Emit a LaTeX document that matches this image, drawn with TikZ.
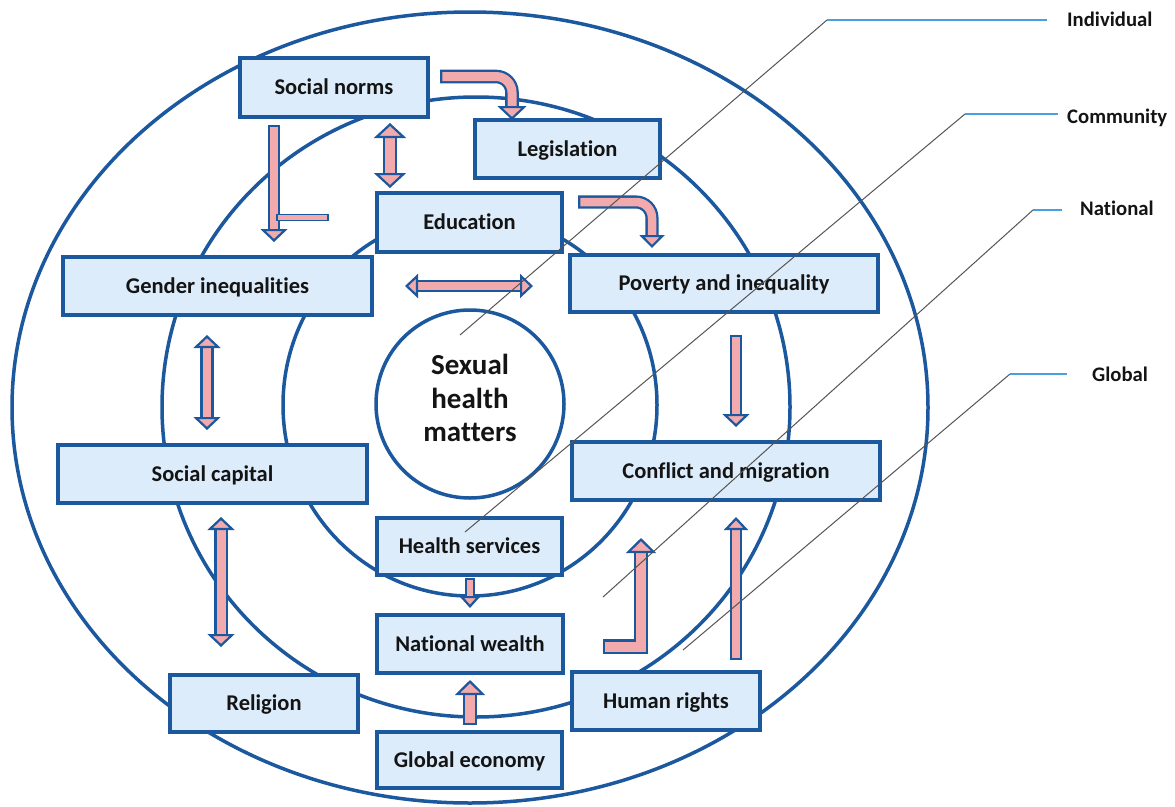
\documentclass[tikz,border=0pt]{standalone}
\usepackage{fontspec}
\setmainfont{Carlito}[Ligatures=NoCommon]
\usetikzlibrary{arrows.meta}
\definecolor{ablue}{RGB}{28,88,158}
\definecolor{afill}{RGB}{221,236,250}
\definecolor{apink}{RGB}{242,170,172}
\definecolor{lgray}{RGB}{85,85,85}
\definecolor{lblue}{RGB}{72,160,222}
\definecolor{tblack}{RGB}{20,20,20}
\tikzset{
  ring/.style={draw=ablue, line width=3.5pt},
  box/.style={rectangle, draw=ablue, fill=afill, line width=3.5pt, inner sep=0pt,
    text=tblack, font=\fontsize{22.5}{27}\selectfont\bfseries, text height=14.5pt, text depth=0pt},
  lbl/.style={text=tblack, font=\fontsize{20.7}{24}\selectfont\bfseries, inner sep=0pt},
  grayline/.style={draw=lgray, line width=1pt},
  blueline/.style={draw=lblue, line width=1.6pt},
  hA/.tip={Triangle[width=29pt,length=14pt,line width=2.2pt,color=ablue,fill=apink]},
  hB/.tip={Triangle[width=25pt,length=13pt,line width=2.2pt,color=ablue,fill=apink]},
  hC/.tip={Triangle[width=32pt,length=15pt,line width=2.2pt,color=ablue,fill=apink]},
  hD/.tip={Triangle[width=27pt,length=13pt,line width=2.2pt,color=ablue,fill=apink]},
  hE/.tip={Triangle[width=24pt,length=13pt,line width=2.2pt,color=ablue,fill=apink]},
  hF/.tip={Triangle[width=30pt,length=15pt,line width=2.2pt,color=ablue,fill=apink]},
  hG/.tip={Triangle[width=21pt,length=12pt,line width=2.2pt,color=ablue,fill=apink]},
  sarr/.style n args={3}{draw=apink, line width=#1, shorten <=2.3pt, arrows={-#3},
    preaction={draw=ablue, line width=#1+4.6pt, arrows=-, shorten <=0pt, shorten >=#2}},
  darr/.style n args={3}{draw=apink, line width=#1, arrows={#3-#3},
    preaction={draw=ablue, line width=#1+4.6pt, arrows=-, shorten <=#2, shorten >=#2}},
}
\begin{document}
\begin{tikzpicture}[x=1pt,y=-1pt]
\useasboundingbox (0,0) rectangle (1175,806);
\fill[white] (0,0) rectangle (1175,806);

% rings
\draw[ring] (470,407.5) ellipse [x radius=458, y radius=395.5];
\draw[ring] (476,407) ellipse [x radius=314, y radius=310];
\draw[ring] (470,405) ellipse [x radius=187, y radius=191];

% core
\node[circle, draw=ablue, line width=3.5pt, fill=white, minimum size=188pt, inner sep=0pt] (core) at (470,404) {};
\node[text=tblack, font=\fontsize{29}{33.5}\selectfont\bfseries, align=center, inner sep=0pt]
  (coretxt) at (470,398) {Sexual\\health\\matters};

% boxes
\node[box, minimum width=188pt, minimum height=59pt] (sn)  at (334,87.5)  {Social norms};
\node[box, minimum width=185pt, minimum height=58pt] (leg) at (567.5,149) {Legislation};
\node[box, minimum width=185pt, minimum height=59pt] (edu) at (469.5,222.5) {Education};
\node[box, minimum width=308pt, minimum height=57pt] (pov) at (724,283.5) {Poverty and inequality};
\node[box, minimum width=309pt, minimum height=58pt] (gen) at (217.5,286) {Gender inequalities};
\node[box, minimum width=309pt, minimum height=58pt] (sc)  at (212.5,474) {Social capital};
\node[box, minimum width=308pt, minimum height=58pt] (con) at (726,471) {Conflict and migration};
\node[box, minimum width=185pt, minimum height=57pt] (hs)  at (469.5,546.5) {Health services};
\node[box, minimum width=186pt, minimum height=58pt] (nw)  at (470,644) {National wealth};
\node[box, minimum width=188pt, minimum height=57pt] (rel) at (264,703.5) {Religion};
\node[box, minimum width=188pt, minimum height=58pt] (hr)  at (666,701) {Human rights};
\node[box, minimum width=185pt, minimum height=56pt] (ge)  at (469.5,760) {Global economy};

% arrow end points
\coordinate (a1s) at (440,76.5);  \coordinate (a1e) at (512,120);
\coordinate (a2s) at (578,202);   \coordinate (a2e) at (652,248);
\coordinate (a3s) at (390,123);   \coordinate (a3e) at (390,188);
\coordinate (a4s) at (274,125);   \coordinate (a4e) at (274,242);
\coordinate (a4b1) at (277,214.5); \coordinate (a4b2) at (328,220.5);
\coordinate (a5s) at (405,286);   \coordinate (a5e) at (533,286);
\coordinate (a6s) at (207,335);   \coordinate (a6e) at (207,430);
\coordinate (a7s) at (221,517);   \coordinate (a7e) at (221,647);
\coordinate (a8s) at (736,335);   \coordinate (a8e) at (736,427);
\coordinate (a9s) at (736,660);   \coordinate (a9e) at (736,517);
\coordinate (a10s) at (603,646.5); \coordinate (a10e) at (641,538);
\coordinate (a11s) at (470,578);  \coordinate (a11e) at (470,608);
\coordinate (a12s) at (470,725);  \coordinate (a12e) at (470,680);

% arrows
\draw[sarr={9pt}{13pt}{hA}, rounded corners=16pt] (a1s) -| (a1e);
\draw[sarr={8.5pt}{12pt}{hB}, rounded corners=16pt] (a2s) -| (a2e);
\draw[darr={10pt}{14pt}{hC}] (a3s) -- (a3e);
\draw[sarr={7.5pt}{12pt}{hD}] (a4s) -- (a4e);
\draw[draw=ablue, fill=apink, line width=1.8pt] (a4b1) rectangle (a4b2);
\draw[darr={7.5pt}{12pt}{hE}] (a5s) -- (a5e);
\draw[darr={8.5pt}{12pt}{hD}] (a6s) -- (a6e);
\draw[darr={9pt}{12pt}{hD}] (a7s) -- (a7e);
\draw[sarr={7.5pt}{12pt}{hD}] (a8s) -- (a8e);
\draw[sarr={7.5pt}{12pt}{hE}] (a9s) -- (a9e);
\draw[sarr={10pt}{14pt}{hF}] (a10s) -| (a10e);
\draw[sarr={6pt}{11pt}{hG}] (a11s) -- (a11e);
\draw[sarr={10pt}{14pt}{hF}] (a12s) -- (a12e);

% level labels
\node[lbl, anchor=base west] (lind) at (1067,26)  {Individual};
\node[lbl, anchor=base west] (lcom) at (1067,123) {Community};
\node[lbl, anchor=base west] (lnat) at (1080,215) {National};
\node[lbl, anchor=base west] (lglo) at (1092,381) {Global};

\coordinate (indE) at (1047,20);  \coordinate (indK) at (827,20);  \coordinate (indT) at (460,335);
\coordinate (comE) at (1058,114); \coordinate (comK) at (965,114); \coordinate (comT) at (465,532);
\coordinate (natE) at (1062,210); \coordinate (natK) at (1033,210); \coordinate (natT) at (603,597);
\coordinate (gloE) at (1067,374); \coordinate (gloK) at (1010,374); \coordinate (gloT) at (683,650);

\draw[grayline] (indK) -- (indT);
\draw[grayline] (comK) -- (comT);
\draw[grayline] (natK) -- (natT);
\draw[grayline] (gloK) -- (gloT);
\draw[blueline] (indE) -- (indK);
\draw[blueline] (comE) -- (comK);
\draw[blueline] (natE) -- (natK);
\draw[blueline] (gloE) -- (gloK);
\end{tikzpicture}
\end{document}
